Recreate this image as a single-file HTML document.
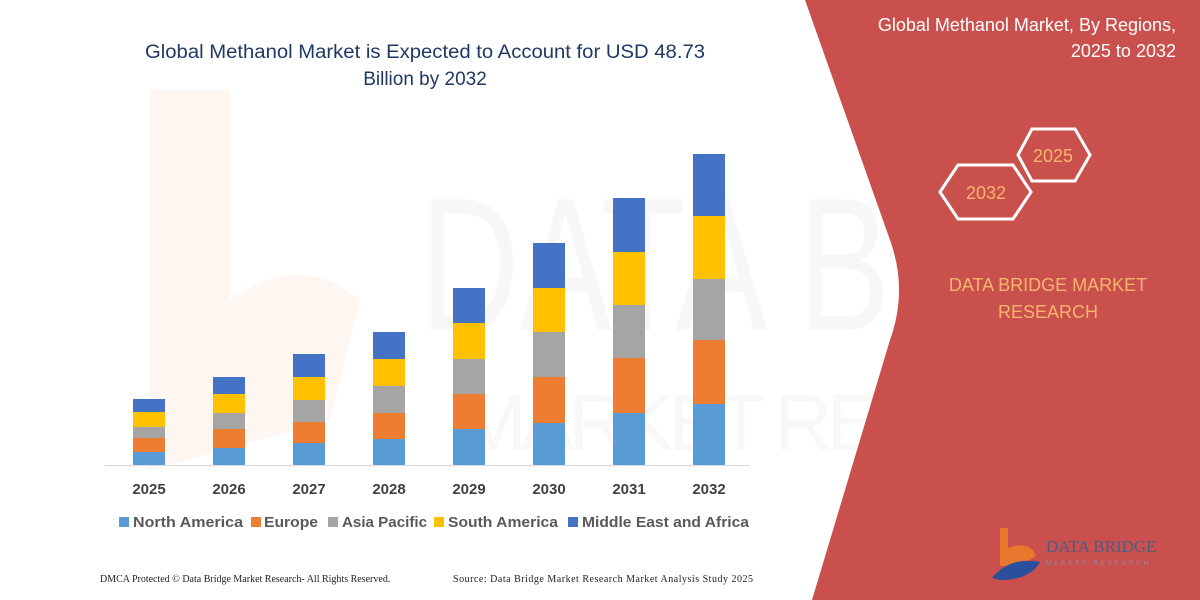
<!DOCTYPE html>
<html><head><meta charset="utf-8"><style>
html,body{margin:0;padding:0;background:#fff;}
svg{display:block;font-family:"Liberation Sans",sans-serif;}
</style></head><body>
<svg width="1200" height="600" viewBox="0 0 1200 600" xmlns="http://www.w3.org/2000/svg">
<rect width="1200" height="600" fill="#fff"/>
<!-- faint watermark -->
<text x="420" y="330" font-size="190" fill="#f7f7f7" textLength="470" lengthAdjust="spacingAndGlyphs">DATA B</text>
<text x="460" y="450" font-size="80" fill="#f8f8f8" textLength="420" lengthAdjust="spacing">MARKET RE</text>
<path d="M150 90 L230 90 L230 300 Q300 250 360 300 L330 420 L150 470 Z" fill="#fdf4ee" opacity="0.8"/>
<!-- red panel -->
<path d="M805 0 L1200 0 L1200 600 L812 600 L890 340 Q908 290 890 240 Z" fill="#c9504c"/>
<!-- right title -->
<text x="1176" y="31" font-size="18" fill="#fff" text-anchor="end">Global Methanol Market, By Regions,</text>
<text x="1176" y="57" font-size="18" fill="#fff" text-anchor="end">2025 to 2032</text>
<!-- hexagons -->
<polygon points="940,192 958,165 1013,165 1031,192 1013,219 958,219" fill="none" stroke="#fff" stroke-width="3"/>
<polygon points="1018,155 1032,129 1075,129 1090,155 1075,181 1032,181" fill="none" stroke="#fff" stroke-width="3"/>
<text x="986" y="199" font-size="18" fill="#f7b56c" text-anchor="middle">2032</text>
<text x="1053" y="162" font-size="18" fill="#f7b56c" text-anchor="middle">2025</text>
<text x="1048" y="291" font-size="18" fill="#f7b56c" text-anchor="middle">DATA BRIDGE MARKET</text>
<text x="1048" y="318" font-size="18" fill="#f7b56c" text-anchor="middle">RESEARCH</text>
<!-- logo -->
<path d="M1000 528 L1008 528 L1008 548 Q1030 540 1036 556 L1020 566 L1000 566 Z" fill="#e8782e"/>
<path d="M992 578 Q1010 556 1040 562 Q1030 580 1000 580 Z" fill="#2a4f9c"/>
<text x="1046" y="552" font-size="17" fill="#4d5d84" font-family="Liberation Serif,serif">DATA BRIDGE</text>
<text x="1046" y="565" font-size="6" fill="#8a90a8" letter-spacing="3">MARKET RESEARCH</text>
<!-- left title -->
<text x="425" y="58" font-size="19" fill="#1f3864" text-anchor="middle" textLength="560" lengthAdjust="spacingAndGlyphs">Global Methanol Market is Expected to Account for USD 48.73</text>
<text x="425" y="85" font-size="19" fill="#1f3864" text-anchor="middle">Billion by 2032</text>
<!-- baseline -->
<line x1="105" y1="465.5" x2="750" y2="465.5" stroke="#d9d9d9" stroke-width="1"/>
<!-- bars -->
<g>
<rect x="133" y="452" width="32" height="13" fill="#5b9bd5"/><rect x="133" y="438" width="32" height="14" fill="#ed7d31"/><rect x="133" y="427" width="32" height="11" fill="#a5a5a5"/><rect x="133" y="412" width="32" height="15" fill="#ffc000"/><rect x="133" y="399" width="32" height="13" fill="#4472c4"/>
<rect x="213" y="448" width="32" height="17" fill="#5b9bd5"/><rect x="213" y="429" width="32" height="19" fill="#ed7d31"/><rect x="213" y="413" width="32" height="16" fill="#a5a5a5"/><rect x="213" y="394" width="32" height="19" fill="#ffc000"/><rect x="213" y="377" width="32" height="17" fill="#4472c4"/>
<rect x="293" y="443" width="32" height="22" fill="#5b9bd5"/><rect x="293" y="422" width="32" height="21" fill="#ed7d31"/><rect x="293" y="400" width="32" height="22" fill="#a5a5a5"/><rect x="293" y="377" width="32" height="23" fill="#ffc000"/><rect x="293" y="354" width="32" height="23" fill="#4472c4"/>
<rect x="373" y="439" width="32" height="26" fill="#5b9bd5"/><rect x="373" y="413" width="32" height="26" fill="#ed7d31"/><rect x="373" y="386" width="32" height="27" fill="#a5a5a5"/><rect x="373" y="359" width="32" height="27" fill="#ffc000"/><rect x="373" y="332" width="32" height="27" fill="#4472c4"/>
<rect x="453" y="429" width="32" height="36" fill="#5b9bd5"/><rect x="453" y="394" width="32" height="35" fill="#ed7d31"/><rect x="453" y="359" width="32" height="35" fill="#a5a5a5"/><rect x="453" y="323" width="32" height="36" fill="#ffc000"/><rect x="453" y="288" width="32" height="35" fill="#4472c4"/>
<rect x="533" y="423" width="32" height="42" fill="#5b9bd5"/><rect x="533" y="377" width="32" height="46" fill="#ed7d31"/><rect x="533" y="332" width="32" height="45" fill="#a5a5a5"/><rect x="533" y="288" width="32" height="44" fill="#ffc000"/><rect x="533" y="243" width="32" height="45" fill="#4472c4"/>
<rect x="613" y="413" width="32" height="52" fill="#5b9bd5"/><rect x="613" y="358" width="32" height="55" fill="#ed7d31"/><rect x="613" y="305" width="32" height="53" fill="#a5a5a5"/><rect x="613" y="252" width="32" height="53" fill="#ffc000"/><rect x="613" y="198" width="32" height="54" fill="#4472c4"/>
<rect x="693" y="404" width="32" height="61" fill="#5b9bd5"/><rect x="693" y="340" width="32" height="64" fill="#ed7d31"/><rect x="693" y="279" width="32" height="61" fill="#a5a5a5"/><rect x="693" y="216" width="32" height="63" fill="#ffc000"/><rect x="693" y="154" width="32" height="62" fill="#4472c4"/>
</g>
<!-- year labels -->
<g font-size="15" font-weight="bold" fill="#404040" text-anchor="middle">
<text x="149" y="494">2025</text><text x="229" y="494">2026</text><text x="309" y="494">2027</text><text x="389" y="494">2028</text>
<text x="469" y="494">2029</text><text x="549" y="494">2030</text><text x="629" y="494">2031</text><text x="709" y="494">2032</text>
</g>
<!-- legend -->
<g font-size="15" font-weight="bold" fill="#595959">
<rect x="119" y="517" width="10" height="10" fill="#5b9bd5"/><text x="133" y="527" textLength="110" lengthAdjust="spacingAndGlyphs">North America</text>
<rect x="251" y="517" width="10" height="10" fill="#ed7d31"/><text x="264" y="527" textLength="54" lengthAdjust="spacingAndGlyphs">Europe</text>
<rect x="328" y="517" width="10" height="10" fill="#a5a5a5"/><text x="342" y="527" textLength="85" lengthAdjust="spacingAndGlyphs">Asia Pacific</text>
<rect x="434" y="517" width="10" height="10" fill="#ffc000"/><text x="448" y="527" textLength="110" lengthAdjust="spacingAndGlyphs">South America</text>
<rect x="568" y="517" width="10" height="10" fill="#4472c4"/><text x="582" y="527" textLength="167" lengthAdjust="spacingAndGlyphs">Middle East and Africa</text>
</g>
<!-- footer -->
<g font-size="10" fill="#222" font-family="Liberation Serif,serif">
<text x="100" y="582">DMCA Protected © Data Bridge Market Research-  All Rights Reserved.</text>
<text x="453" y="582" textLength="300" lengthAdjust="spacing">Source: Data Bridge Market Research  Market Analysis Study 2025</text>
</g>
</svg>
</body></html>
